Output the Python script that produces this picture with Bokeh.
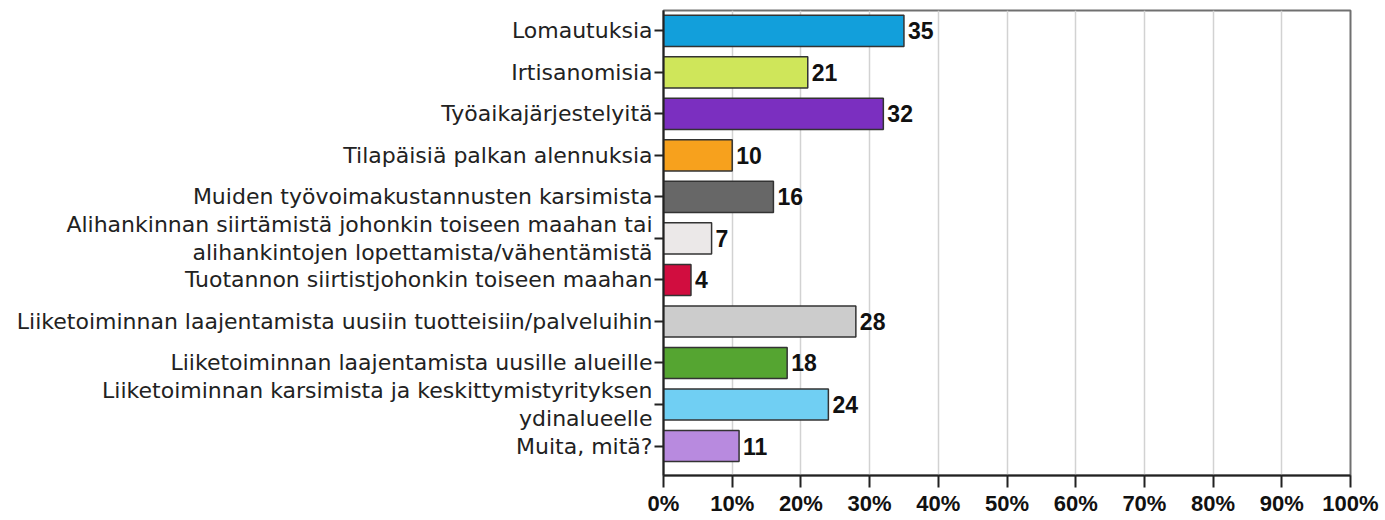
import numpy as np

# Bokeh libraries
from bokeh.plotting import figure
from bokeh.models import ColumnDataSource, Range1d, FixedTicker
from bokeh.core.properties import value
from bokeh.embed import file_html
from bokeh.resources import INLINE


categories = ['Lomautuksia',
              'Irtisanomisia',
              'Työaikajärjestelyitä',
              'Tilapäisiä palkan alennuksia',
              'Muiden työvoimakustannusten karsimista',
              'Alihankinnan siirtämistä johonkin toiseen maahan tai\nalihankintojen lopettamista/vähentämistä',
              'Tuotannon siirtistjohonkin toiseen maahan',
              'Liiketoiminnan laajentamista uusiin tuotteisiin/palveluihin',
              'Liiketoiminnan laajentamista uusille alueille',
              'Liiketoiminnan karsimista ja keskittymistyrityksen\nydinalueelle',
              'Muita, mitä?']
percents = [35, 21, 32, 10, 16, 7, 4, 28, 18, 24, 11]
x_ticks = [0, 10, 20, 30, 40, 50, 60, 70, 80, 90, 100]

bar_colors = ['#129fdb', '#cfe65a', '#7b2fc0', '#f7a11d', '#676767', '#ebe8e8',
              '#d10d3f', '#cccccc', '#55a531', '#70cff3', '#b88adf']

idx = list(range(len(categories)))
src = ColumnDataSource(dict(y=idx, val=percents, color=bar_colors,
                            lbl=[str(v) for v in percents]))

p = figure(width=1380, height=520,
           x_range=Range1d(0, 100),
           y_range=Range1d(len(categories) - 0.29, -0.49),
           toolbar_location=None, output_backend="svg")
p.min_border_left = 663
p.min_border_right = 30
p.min_border_top = 10
p.min_border_bottom = 45
p.outline_line_color = '#707070'
p.outline_line_width = 2

p.hbar(y='y', left=0, right='val', height=0.75, fill_color='color',
       line_color='#333333', line_width=1.5, source=src)

p.text(x='val', y='y', text='lbl', source=src, x_offset=4,
       text_baseline='middle', text_align='left',
       text_font=value('Liberation Sans'), text_font_style='bold',
       text_font_size='23px', text_color='#111111')

# grid
p.ygrid.grid_line_color = None
p.xgrid.ticker = FixedTicker(ticks=x_ticks)
p.xgrid.grid_line_color = '#d2d2d2'
p.xgrid.grid_line_width = 1.5

# x axis
p.xaxis.ticker = FixedTicker(ticks=x_ticks)
p.xaxis.major_label_overrides = {t: f'{t}%' for t in x_ticks}
p.xaxis.major_label_text_font = 'Liberation Sans'
p.xaxis.major_label_text_font_style = 'bold'
p.xaxis.major_label_text_font_size = '22px'
p.xaxis.major_label_text_color = '#111111'
p.xaxis.major_label_standoff = 3
p.xaxis.major_tick_in = 0
p.xaxis.major_tick_out = 12
p.xaxis.major_tick_line_width = 2
p.xaxis.minor_tick_line_color = None
p.xaxis.axis_line_width = 2
p.xaxis.axis_line_color = '#222222'
p.xaxis.major_tick_line_color = '#222222'

# y axis
p.yaxis.ticker = FixedTicker(ticks=idx)
p.yaxis.major_label_overrides = {i: c for i, c in zip(idx, categories)}
p.yaxis.major_label_text_font = 'DejaVu Sans'
p.yaxis.major_label_text_font_size = '22px'
p.yaxis.major_label_text_line_height = 1.1
p.yaxis.major_label_text_color = '#222222'
p.yaxis.major_label_standoff = 2
p.yaxis.major_tick_in = 0
p.yaxis.major_tick_out = 9
p.yaxis.major_tick_line_width = 2
p.yaxis.minor_tick_line_color = None
p.yaxis.axis_line_width = 2
p.yaxis.axis_line_color = '#222222'
p.yaxis.major_tick_line_color = '#222222'

open("out.html", "w").write(file_html(p, INLINE))
